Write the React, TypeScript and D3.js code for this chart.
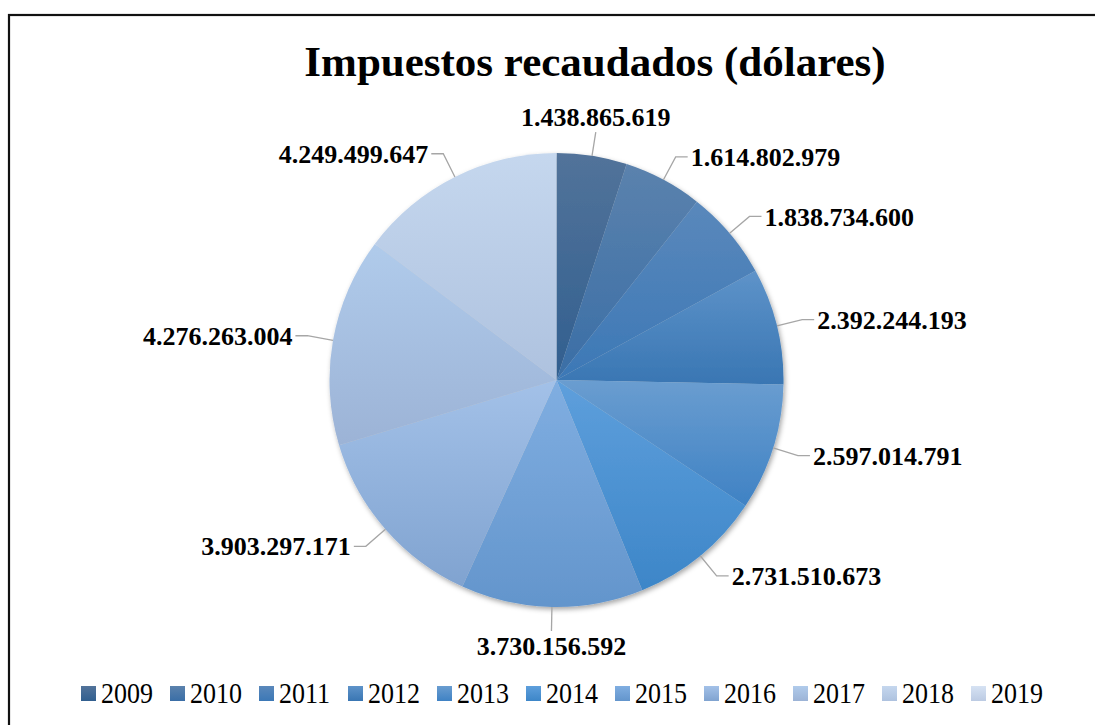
import React from "react";
import * as d3 from "d3";

const years = ["2009","2010","2011","2012","2013","2014","2015","2016","2017","2018","2019"];
const values = [1438865619, 1614802979, 1838734600, 2392244193, 2597014791, 2731510673, 3730156592, 3903297171, 4276263004, 4249499647, 0];
const topColors = ["#52739a","#5b82ad","#5a88bb","#5e93c9","#6a9dd0","#5e9fdc","#80aee1","#a3c1e8","#b0cbeb","#c5d7ee","#d6e2f3"];
const bottomColors = ["#315f8f","#3a6ea6","#3c78b6","#3976b3","#3f82c4","#3d86c8","#6395cc","#80a3d0","#9cb3d6","#aec2df","#bccbe3"];
const title = "Impuestos recaudados (dólares)";

const W = 1095, H = 725;
const cx = 556.5, cy = 380, R = 227;
const fmt = (v: number) => d3.format(",")(v).replace(/,/g, ".");

export default function App() {
  const data = years.map((y, i) => ({ year: y, value: values[i], i }));
  const pie = d3.pie<any>().value((d: any) => d.value).sort(null);
  const arcs = pie(data);
  const arcGen = d3.arc<any>().innerRadius(0).outerRadius(R);

  const legendItemW = 89;
  const legendX0 = 81;
  const legendY = 686;

  return (
    <svg width={W} height={H} style={{ position: "absolute", left: 0, top: 0, background: "#fff" }}
      fontFamily="'Liberation Serif', 'Times New Roman', serif">
      <defs>
        {years.map((y, i) => (
          <linearGradient key={y} id={`g${i}`} x1="0" y1="0" x2="0" y2="1">
            <stop offset="0%" stopColor={topColors[i]} />
            <stop offset="100%" stopColor={bottomColors[i]} />
          </linearGradient>
        ))}
        <filter id="sh" x="-20%" y="-20%" width="140%" height="140%">
          <feDropShadow dx="1.5" dy="2.5" stdDeviation="2.5" floodColor="#000" floodOpacity="0.35" />
        </filter>
      </defs>
      <rect x={9} y={15} width={W} height={H} fill="#fff" stroke="#111" strokeWidth={2.2} />
      <text x={595} y={76} textAnchor="middle" fontSize={43} fontWeight="bold" fill="#000">{title}</text>
      <g transform={`translate(${cx},${cy})`}>
        <g filter="url(#sh)">
          {arcs.filter(a => a.data.value > 0).map(a => (
            <path key={a.data.year} d={arcGen(a) as string} fill={`url(#g${a.data.i})`} />
          ))}
        </g>
        {arcs.filter(a => a.data.value > 0).map(a => {
          const mid = (a.startAngle + a.endAngle) / 2;
          const s = Math.sin(mid), c = -Math.cos(mid);
          const ex = R * s, ey = R * c;
          if (Math.abs(s) < 0.3) {
            const br = R + 24;
            const bx = br * s, by = br * c;
            const top = c < 0;
            return (
              <g key={a.data.year}>
                <path d={`M${ex},${ey}L${bx},${by}`} stroke="#a6a6a6" strokeWidth={1.3} fill="none" />
                <text x={bx} y={top ? by - 6 : by + 24} textAnchor="middle" fontSize={26} fontWeight="bold">{fmt(a.data.value)}</text>
              </g>
            );
          }
          const br = R + 26;
          const bx = br * s, by = br * c;
          const dir = s > 0 ? 1 : -1;
          const hx = bx + dir * 12;
          return (
            <g key={a.data.year}>
              <path d={`M${ex},${ey}L${bx},${by}L${hx},${by}`} stroke="#a6a6a6" strokeWidth={1.3} fill="none" />
              <text x={hx + dir * 3} y={by} dy="0.35em" textAnchor={dir > 0 ? "start" : "end"} fontSize={26} fontWeight="bold">{fmt(a.data.value)}</text>
            </g>
          );
        })}
      </g>
      <g>
        {years.map((y, i) => (
          <g key={y} transform={`translate(${legendX0 + i * legendItemW},${legendY})`}>
            <rect x={0} y={0} width={15} height={15} fill={`url(#g${i})`} />
            <text x={20} y={17} fontSize={26} fill="#000" transform="translate(0,17) scale(1,1.1) translate(0,-17)">{y}</text>
          </g>
        ))}
      </g>
    </svg>
  );
}
